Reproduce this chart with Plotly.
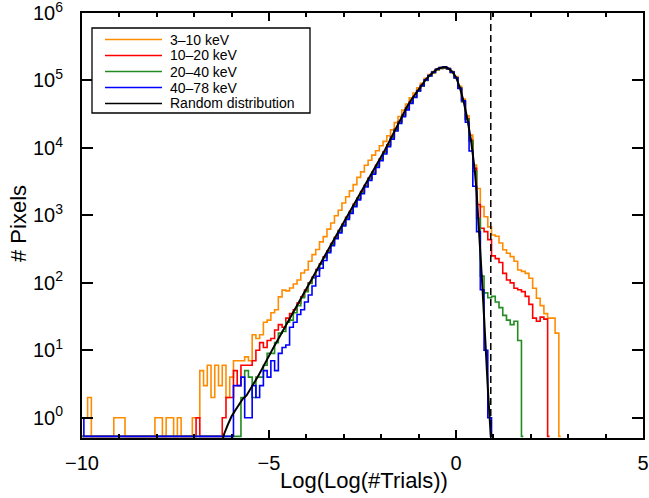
import plotly.graph_objects as go

# ---------------- data ----------------
bin_start = -10.0      # centre of first bin
bin_width = 0.1

# counts per bin, centres -10.0 ... 3.0
counts_3_10 = [
    1, 1, 2, 0, 0, 0, 0, 0, 0, 1,                      # -10.0 .. -9.1
    1, 1, 0, 0, 0, 0, 0, 0, 0, 0,                      # -9.0 .. -8.1
    1, 1, 0, 1, 1, 0, 1, 0, 0, 0,                      # -8.0 .. -7.1
    1, 1, 5, 3, 6, 2, 6, 3, 6, 2,                      # -7.0 .. -6.1
    4, 7, 7, 7, 8, 7, 17, 15, 17, 26,                  # -6.0 .. -5.1
    28, 36, 40, 62, 78, 76, 84, 96, 110, 140,          # -5.0 .. -4.1
    155, 209, 262, 312, 405, 485, 625, 770, 990, 1195, # -4.0 .. -3.1
    1530, 1890, 2310, 2860, 3660, 4420, 5550, 6560, 7820, 9080,   # -3.0 .. -2.1
    10800, 12500, 15200, 18500, 23700, 29300, 36600, 44800, 55200, 65100,  # -2.0 .. -1.1
    77800, 90600, 108000, 122000, 136000, 148000, 155000, 157000, 150000, 136000,  # -1.0 .. -0.1
    114000, 82000, 53000, 30000, 15500, 5600, 2500, 1350, 955, 676,  # 0.0 .. 0.9
    513, 490, 389, 309, 275, 245, 209, 155, 148, 138,  # 1.0 .. 1.9
    117, 83, 59, 46, 35, 30, 30, 18, 0, 0,             # 2.0 .. 2.9
    0,                                                  # 3.0
]

counts_10_20 = [
    0, 0, 0, 0, 0, 0, 0, 0, 0, 0,
    0, 0, 0, 0, 0, 0, 0, 0, 0, 0,
    0, 0, 0, 0, 0, 0, 0, 0, 0, 0,
    0, 1, 0, 0, 0, 0, 0, 0, 1, 2,
    2, 5, 3, 6, 6, 6, 7, 10, 13, 11,
    14, 15, 20, 24, 22, 30, 35, 40, 50, 62,
    78, 100, 121, 157, 192, 243, 298, 384, 472, 595,
    735, 940, 1140, 1460, 1800, 2250, 2790, 3580, 4340, 5530,
    6880, 8760, 11100, 14600, 19000, 24700, 30800, 39200, 47800, 57900,
    71000, 84000, 101000, 117000, 131000, 144000, 151000, 154000, 148000, 132000,
    110000, 78000, 49000, 27000, 13000, 5000, 1450, 646, 575, 437,
    251, 229, 200, 138, 110, 100, 83, 79, 74, 63,
    48, 30, 27, 31, 29, 0, 0, 0, 0, 0,
    0,
]

counts_20_40 = [
    0, 0, 0, 0, 0, 0, 0, 0, 0, 0,
    0, 0, 0, 0, 0, 0, 0, 0, 0, 0,
    0, 0, 0, 0, 0, 0, 0, 0, 0, 0,
    0, 0, 0, 0, 0, 0, 0, 0, 0, 0,
    0, 0, 0, 2, 5, 4, 2, 4, 4, 6,
    9, 9, 13, 18, 19, 26, 28, 36, 46, 60,
    74, 98, 118, 153, 189, 236, 292, 375, 463, 580,
    718, 910, 1120, 1410, 1770, 2190, 2730, 3470, 4230, 5380,
    6720, 8530, 10800, 14200, 18500, 24000, 30000, 38200, 46800, 57200,
    70000, 83000, 100000, 116000, 131000, 144000, 151000, 155000, 148000, 132000,
    109000, 77000, 48500, 26500, 12700, 4500, 900, 126, 71, 60,
    63, 52, 43, 33, 28, 24, 27, 14, 0, 0,
    0, 0, 0, 0, 0, 0, 0, 0, 0, 0,
    0,
]

counts_40_78 = [
    1, 0, 0, 0, 0, 0, 0, 0, 0, 0,
    0, 0, 0, 0, 0, 0, 0, 0, 0, 0,
    0, 0, 0, 0, 0, 0, 0, 0, 0, 0,
    0, 0, 0, 0, 0, 0, 0, 0, 0, 0,
    0, 3, 3, 4, 1, 1, 3, 2, 3, 5,
    4, 7, 5, 9, 11, 12, 22, 26, 34, 40,
    52, 66, 90, 125, 165, 215, 280, 355, 450, 550,
    695, 870, 1070, 1350, 1700, 2090, 2630, 3310, 4070, 5120,
    6450, 8120, 10400, 13500, 17800, 23000, 29000, 36700, 45800, 56000,
    70000, 84000, 102000, 118000, 133000, 147000, 156000, 160000, 150000, 133000,
    110000, 76000, 50000, 24000, 9000, 2700, 575, 79, 10, 1,
    0, 0, 0, 0, 0, 0, 0, 0, 0, 0,
    0, 0, 0, 0, 0, 0, 0, 0, 0, 0,
    0,
]

# random-distribution curve, points
rand_x = [-6.23, -6.2, -6.1, -6.0, -5.9, -5.8, -5.7, -5.6, -5.5, -5.4, -5.3, -5.2, -5.1,
          -5.0, -4.9, -4.8, -4.7, -4.6, -4.5, -4.4, -4.3, -4.2, -4.1,
          -4.0, -3.5, -3.0, -2.5, -2.0, -1.9, -1.8, -1.7, -1.6, -1.5, -1.4, -1.3, -1.2, -1.1,
          -1.0, -0.9, -0.8, -0.7, -0.6, -0.5, -0.4, -0.3, -0.2, -0.1,
          0.0, 0.1, 0.2, 0.3, 0.4, 0.5, 0.55, 0.6, 0.65, 0.7, 0.75, 0.8, 0.85, 0.9, 0.93]
rand_y = [0.5, 0.575, 0.79, 1.05, 1.29, 1.55, 1.91, 2.14, 2.63, 3.24, 4.07, 5.13, 6.61,
          8.51, 10.5, 13.2, 16.6, 20.9, 26.3, 33.1, 42.7, 53.7, 67.6,
          85.1, 257, 794, 2400, 7410, 9330, 12000, 15500, 20400, 26300, 33100, 41700, 51300, 61700,
          74100, 87100, 105000, 120000, 135000, 148000, 155000, 158000, 151000, 135000,
          112000, 79400, 50100, 27500, 13200, 4790, 2240, 891, 282, 100, 31.6, 8.1, 2.8, 1.0, 0.52]

threshold_x = 0.93

series_names = ["3\u201310 keV", "10\u201320 keV", "20\u201340 keV", "40\u201378 keV"]
series_colors = ["#FF8C00", "#FF0000", "#228B22", "#0000FF"]
series_counts = [counts_3_10, counts_10_20, counts_20_40, counts_40_78]
rand_name = "Random distribution"
rand_color = "#000000"

y_tick_vals = [1, 10, 100, 1e3, 1e4, 1e5, 1e6]
y_tick_text = ["10<sup>0</sup>", "10<sup>1</sup>", "10<sup>2</sup>", "10<sup>3</sup>",
               "10<sup>4</sup>", "10<sup>5</sup>", "10<sup>6</sup>"]
x_tick_vals = [-10, -5, 0, 5]
x_title = "Log(Log(#Trials))"
y_title = "# Pixels"

# ---------------- figure ----------------
FONT = "Liberation Sans, Arial, Helvetica, sans-serif"
W, H = 649, 498
ML, MR, MT, MB = 82, 6, 13, 60
PW, PH = W - ML - MR, H - MT - MB

def px_to_paper(px, py):
    return (px - ML) / PW, (H - MB - py) / PH

floor = 0.53  # empty bins drawn along the bottom edge

fig = go.Figure()
for name, color, counts in zip(series_names, series_colors, series_counts):
    last = max(i for i, c in enumerate(counts) if c > 0)
    used = counts[:last + 2]          # stop right after the last filled bin
    xs = [round(bin_start + i * bin_width, 2) for i in range(len(used))]
    ys = [c if c > 0 else floor for c in used]
    fig.add_trace(go.Scatter(x=xs, y=ys, mode="lines", name=name, showlegend=False,
                             line=dict(color=color, width=1.6, shape="hvh")))

fig.add_trace(go.Scatter(x=rand_x, y=rand_y, mode="lines", name=rand_name, showlegend=False,
                         line=dict(color=rand_color, width=2)))

fig.add_shape(type="line", xref="x", yref="paper", x0=threshold_x, x1=threshold_x, y0=0, y1=1,
              line=dict(color="black", width=1.5, dash="7px,4px"))

# legend drawn in the upper-left corner
rows_py = [39.5, 55.5, 71.5, 87.5, 103.5]
bx0, by0 = px_to_paper(92, 28)
bx1, by1 = px_to_paper(310, 113)
fig.add_shape(type="rect", xref="paper", yref="paper", x0=bx0, x1=bx1, y0=by1, y1=by0,
              line=dict(color="black", width=1.3), fillcolor="white", layer="above")
legend_names = series_names + [rand_name]
legend_colors = series_colors + [rand_color]
for py, name, color in zip(rows_py, legend_names, legend_colors):
    lx0, ly = px_to_paper(105, py)
    lx1, _ = px_to_paper(162, py)
    fig.add_shape(type="line", xref="paper", yref="paper", x0=lx0, x1=lx1, y0=ly, y1=ly,
                  line=dict(color=color, width=1.5), layer="above")
    tx, _ = px_to_paper(169, py)
    fig.add_annotation(x=tx, y=ly, xref="paper", yref="paper", text=name, showarrow=False,
                       xanchor="left", yanchor="middle", borderpad=0,
                       font=dict(family=FONT, size=14, color="black"))

# axis titles placed as in the reference
tx, ty = px_to_paper(364, 481)
fig.add_annotation(x=tx, y=ty, xref="paper", yref="paper", text=x_title, showarrow=False,
                   xanchor="center", yanchor="middle", borderpad=0,
                   font=dict(family=FONT, size=22, color="black"))
tx, ty = px_to_paper(18, 224)
fig.add_annotation(x=tx, y=ty, xref="paper", yref="paper", text=y_title, showarrow=False,
                   textangle=-90, xanchor="center", yanchor="middle", borderpad=0,
                   font=dict(family=FONT, size=22, color="black"))

axis_common = dict(showline=True, linecolor="black", linewidth=2, mirror="allticks",
                   ticks="inside", tickcolor="black", tickwidth=2, showgrid=False, zeroline=False,
                   ticklabeloverflow="allow",
                   tickfont=dict(family=FONT, size=20, color="black"))

fig.update_xaxes(range=[-10, 5], tickvals=x_tick_vals, ticklen=8, ticklabelstandoff=6,
                 minor=dict(dtick=1, ticks="inside", ticklen=4, tickwidth=2, tickcolor="black", showgrid=False),
                 **axis_common)
fig.update_yaxes(type="log", range=[-0.3, 6.0005], tickvals=y_tick_vals, ticktext=y_tick_text, ticklen=11,
                 ticklabelstandoff=13, **axis_common)

fig.update_layout(width=W, height=H, margin=dict(l=ML, r=MR, t=MT, b=MB, autoexpand=False),
                  plot_bgcolor="white", paper_bgcolor="white", showlegend=False,
                  font=dict(family=FONT, color="black"))

fig.write_html("out.html", config={"displayModeBar": False},
               post_script="document.body.style.margin='0';document.body.style.padding='0';")
